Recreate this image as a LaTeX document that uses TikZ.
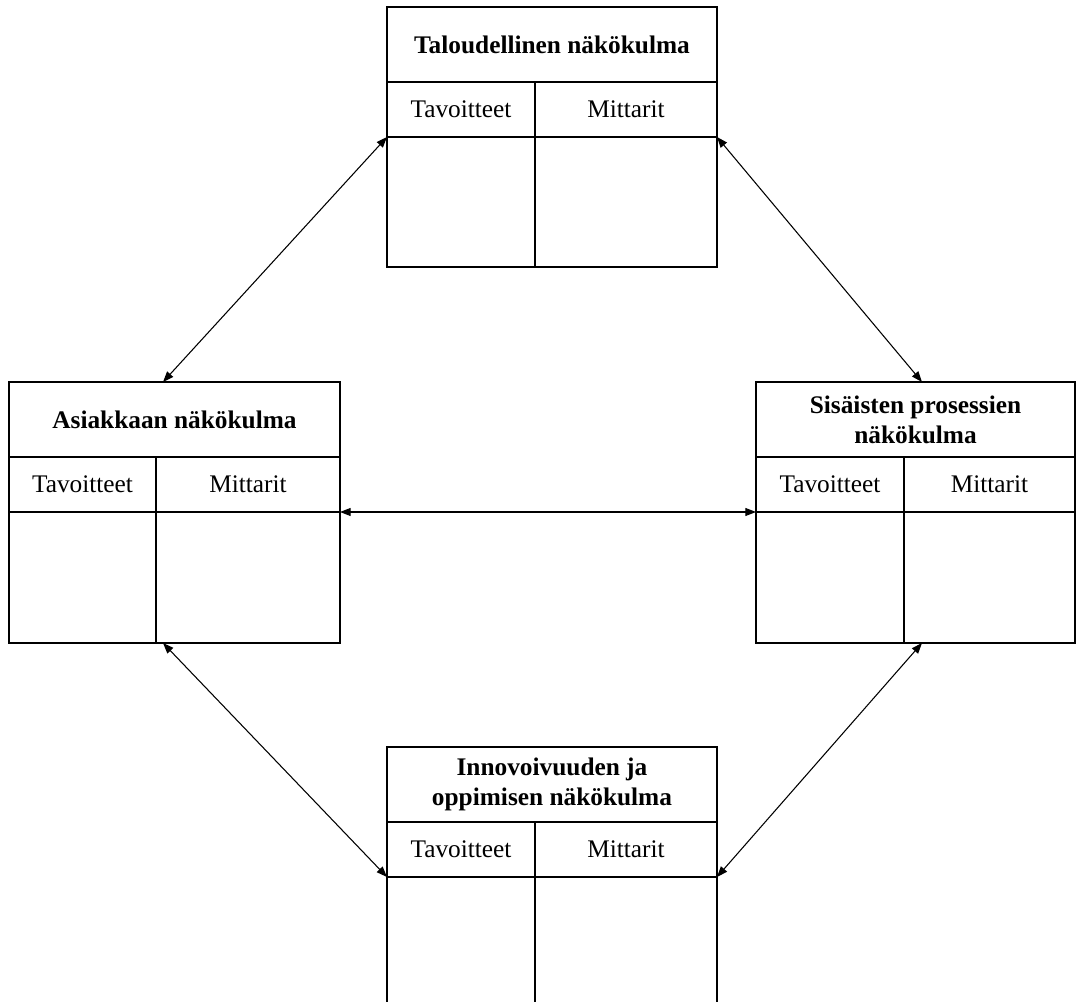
\documentclass[tikz,border=0pt]{standalone}
\usepackage{fontspec}
\setmainfont{Liberation Serif}
\usetikzlibrary{arrows.meta}
\begin{document}
\begin{tikzpicture}[x=0.75pt,y=-0.75pt,
  frame/.style={draw=black,line width=1pt},
  ttl/.style={font=\fontsize{19}{22.5}\selectfont\bfseries,align=center,inner sep=0pt},
  hdr/.style={font=\fontsize{19}{22.5}\selectfont,inner sep=0pt},
  link/.style={line width=0.8pt,{Triangle[length=8pt,width=6pt]}-{Triangle[length=8pt,width=6pt]}}]
\useasboundingbox (0,0) rectangle (1076,1002);
\begin{scope}
\clip (0,0) rectangle (1076,1002);
% perspective card: name, left, top, right, bottom, title rule, header rule, column rule, title
\newcommand\card[9]{%
  \draw[frame] (#2,#3) rectangle (#4,#5);
  \draw[frame] (#2,#6) -- (#4,#6);
  \draw[frame] (#2,#7) -- (#4,#7);
  \draw[frame] (#8,#6) -- (#8,#5);
  \node[ttl] (#1-t) at ({(#2+#4)/2},{(#3+#6)/2}) {#9};
  \node[hdr] (#1-a) at ({(#2+#8)/2},{(#6+#7)/2}) {Tavoitteet};
  \node[hdr] (#1-b) at ({(#8+#4)/2},{(#6+#7)/2}) {Mittarit};
  \coordinate (#1-w) at (#2,#7);
  \coordinate (#1-e) at (#4,#7);
}
\card{fin}{387}{7}{717}{267}{82}{137}{535}{Taloudellinen näkökulma}
\card{cus}{9}{382}{340}{643}{457}{512}{156}{Asiakkaan näkökulma}
\card{int}{756}{382}{1075}{643}{457}{512}{904}{Sisäisten prosessien\\näkökulma}
\card{inn}{387}{747}{717}{1010}{822}{877}{535}{Innovoivuuden ja\\oppimisen näkökulma}
\end{scope}
\coordinate (cus-top) at (163,382);
\coordinate (cus-bot) at (163,643);
\coordinate (int-top) at (922,382);
\coordinate (int-bot) at (922,643);
\draw[link] (fin-w) -- (cus-top);
\draw[link] (fin-e) -- (int-top);
\draw[link] (cus-e) -- (int-w);
\draw[link] (cus-bot) -- (inn-w);
\draw[link] (int-bot) -- (inn-e);
\end{tikzpicture}
\end{document}
